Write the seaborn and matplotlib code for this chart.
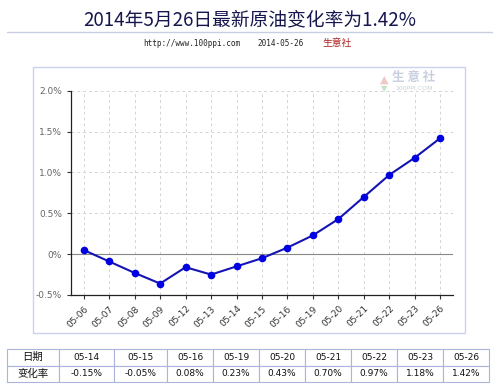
import seaborn as sns
import matplotlib.pyplot as plt
from matplotlib.patches import Rectangle
from matplotlib.lines import Line2D

# data
dates = ['05-06', '05-07', '05-08', '05-09', '05-12', '05-13', '05-14', '05-15',
         '05-16', '05-19', '05-20', '05-21', '05-22', '05-23', '05-26']
rates = [0.05, -0.09, -0.23, -0.36, -0.16, -0.25, -0.15, -0.05,
         0.08, 0.23, 0.43, 0.70, 0.97, 1.18, 1.42]

yticks = [-0.5, 0, 0.5, 1.0, 1.5, 2.0]
ytick_labels = ['-0.5%', '0%', '0.5%', '1.0%', '1.5%', '2.0%']

table_dates = ['05-14', '05-15', '05-16', '05-19', '05-20', '05-21', '05-22', '05-23', '05-26']
table_rates = ['-0.15%', '-0.05%', '0.08%', '0.23%', '0.43%', '0.70%', '0.97%', '1.18%', '1.42%']

sns.set_style('white')
plt.rcParams['font.family'] = ['DejaVu Sans', 'Noto Sans CJK SC']

W, H = 500, 388
fig = plt.figure(figsize=(5, 3.88), dpi=100)

# =========================================================
# header
# =========================================================
fig.text(0.5, 1 - 20 / H, '2014年5月26日最新原油变化率为1.42%', ha='center', va='center',
         fontsize=13.5, color='#16164e', family=['Noto Sans CJK SC', 'DejaVu Sans'])
fig.add_artist(Line2D([7 / W, 492 / W], [1 - 32 / H, 1 - 32 / H],
                      transform=fig.transFigure, color='#c8cde0', lw=1))
fig.text(192 / W, 1 - 43 / H, 'http://www.100ppi.com', ha='center', va='center',
         fontsize=5.5, family='DejaVu Sans Mono', color='#222222')
fig.text(281 / W, 1 - 43 / H, '2014-05-26', ha='center', va='center',
         fontsize=5.5, family='DejaVu Sans Mono', color='#222222')
fig.text(337 / W, 1 - 43 / H, '生意社', ha='center', va='center',
         fontsize=7, family='Noto Sans CJK SC', color='#b02020')

# panel frame
fig.add_artist(Rectangle((33 / W, 1 - 333 / H), (465 - 33) / W, (333 - 67) / H,
                         transform=fig.transFigure, fill=False, edgecolor='#c9d3ee', lw=1))

# =========================================================
# line chart
# =========================================================
ax = fig.add_axes([71 / W, 1 - 295 / H, (453 - 71) / W, (295 - 90.7) / H])
ax.grid(True, linestyle=(0, (3, 3)), color='#d4d4d4', linewidth=0.7)
ax.axhline(0, color='#888888', lw=0.8, zorder=1)
sns.lineplot(x=dates, y=rates, sort=False, marker='o', color='#1414b4', linewidth=1.5,
             markersize=5.5, markeredgewidth=0, markerfacecolor='#0000e0', ax=ax, zorder=3)

ax.set_xlim(-0.5, len(dates) - 0.5)
ax.set_ylim(-0.5, 2.0)
ax.set_yticks(yticks)
ax.set_yticklabels(ytick_labels)
ax.set_xticks(range(len(dates)))
ax.set_xticklabels(dates, rotation=45, ha='right', rotation_mode='anchor')
ax.tick_params(axis='y', labelsize=6.5, labelcolor='#666666', length=3, width=0.8,
               direction='out', left=True, color='#333333')
ax.tick_params(axis='x', labelsize=6.5, labelcolor='#333333', length=3, width=0.8,
               direction='out', bottom=True, color='#333333')
ax.set_xlabel('')
ax.set_ylabel('')
for s in ['top', 'right']:
    ax.spines[s].set_visible(False)
for s in ['left', 'bottom']:
    ax.spines[s].set_color('#222222')
    ax.spines[s].set_linewidth(0.9)

# watermark
fig.text(414 / W, 1 - 78 / H, '生 意 社', ha='center', va='center', fontsize=9,
         color='#c8d0e0', family='Noto Sans CJK SC', fontweight='bold')
fig.text(414 / W, 1 - 89 / H, '100PPI.COM', ha='center', va='center', fontsize=4.5,
         color='#c8d0d8')
fig.text(384 / W, 1 - 80 / H, '▲', ha='center', va='center', fontsize=8, color='#f0c8c8')
fig.text(384 / W, 1 - 89 / H, '▼', ha='center', va='center', fontsize=6, color='#c8e0c8')

# =========================================================
# table
# =========================================================
col_px = [52, 55, 53, 46, 46, 46, 46, 46, 46, 46]
tot = sum(col_px)
axt = fig.add_axes([7 / W, 1 - 382 / H, tot / W, 33 / H])
axt.axis('off')
tbl = axt.table(cellText=[['日期'] + table_dates, ['变化率'] + table_rates],
                colWidths=[c / tot for c in col_px], cellLoc='center', bbox=[0, 0, 1, 1])
tbl.auto_set_font_size(False)
for (r, c), cell in tbl.get_celld().items():
    cell.set_edgecolor('#aab4dc')
    cell.set_linewidth(0.8)
    cell.get_text().set_fontsize(6.5)
    cell.get_text().set_color('#111111')
    if c == 0:
        cell.get_text().set_fontfamily(['Noto Sans CJK SC', 'DejaVu Sans'])
        cell.get_text().set_fontsize(7.5)

fig.savefig('out.png', dpi=100)
